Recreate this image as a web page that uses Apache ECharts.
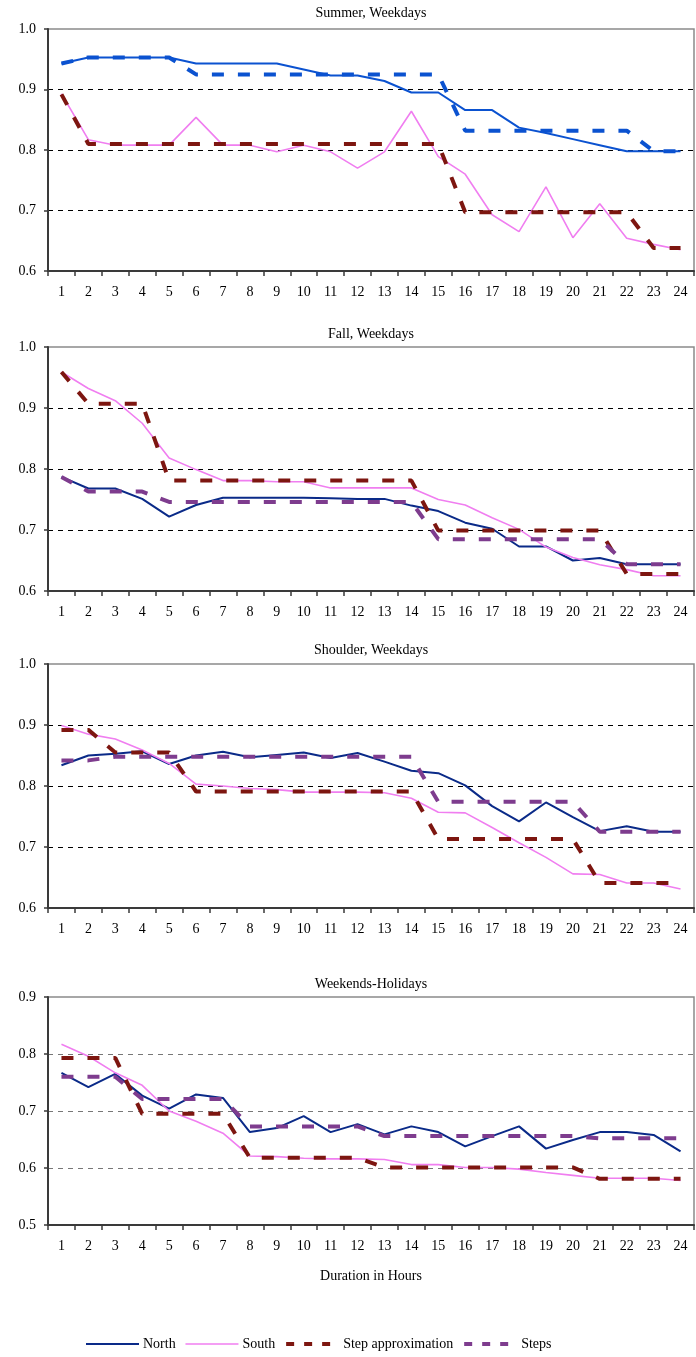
<!DOCTYPE html>
<html>
<head>
<meta charset="utf-8">
<script src="https://cdn.jsdelivr.net/npm/echarts@6/dist/echarts.min.js"></script>
<style>
  html, body { margin: 0; padding: 0; background: #fff; }
  #chart { width: 696px; height: 1357px; }
</style>
</head>
<body>
<div id="chart"></div>
<script>
// Hour categories shared by all four panels
const hours = ['1','2','3','4','5','6','7','8','9','10','11','12','13','14','15','16','17','18','19','20','21','22','23','24'];

const panelTitles = ['Summer, Weekdays', 'Fall, Weekdays', 'Shoulder, Weekdays', 'Weekends-Holidays'];
const axisTitle = 'Duration in Hours';
const seriesNames = ['North', 'South', 'Step approximation', 'Steps'];

// Summer, weekdays
const summerNorth  = [0.943,0.953,0.953,0.953,0.953,0.943,0.943,0.943,0.943,0.933,0.923,0.923,0.914,0.895,0.895,0.866,0.866,0.837,0.828,0.818,0.808,0.798,0.798,0.798];
const summerSouth  = [0.893,0.817,0.808,0.808,0.808,0.854,0.808,0.808,0.797,0.808,0.797,0.770,0.797,0.864,0.789,0.760,0.693,0.665,0.739,0.655,0.711,0.654,0.644,0.635];
const summerApprox = [0.892,0.810,0.810,0.810,0.810,0.810,0.810,0.810,0.810,0.810,0.810,0.810,0.810,0.810,0.810,0.697,0.697,0.697,0.697,0.697,0.697,0.697,0.638,0.638];
const summerSteps  = [0.943,0.953,0.953,0.953,0.953,0.925,0.925,0.925,0.925,0.925,0.925,0.925,0.925,0.925,0.925,0.832,0.832,0.832,0.832,0.832,0.832,0.832,0.798,0.798];

// Fall, weekdays
const fallNorth  = [0.787,0.768,0.768,0.751,0.722,0.741,0.753,0.753,0.753,0.753,0.752,0.751,0.751,0.740,0.731,0.712,0.702,0.673,0.673,0.650,0.654,0.644,0.644,0.644];
const fallSouth  = [0.959,0.932,0.912,0.875,0.818,0.799,0.781,0.781,0.779,0.779,0.769,0.769,0.769,0.769,0.750,0.741,0.720,0.701,0.672,0.655,0.643,0.635,0.625,0.625];
const fallApprox = [0.959,0.907,0.907,0.907,0.781,0.781,0.781,0.781,0.781,0.781,0.781,0.781,0.781,0.781,0.699,0.699,0.699,0.699,0.699,0.699,0.699,0.628,0.628,0.628];
const fallSteps  = [0.787,0.763,0.763,0.763,0.746,0.746,0.746,0.746,0.746,0.746,0.746,0.746,0.746,0.746,0.685,0.685,0.685,0.685,0.685,0.685,0.685,0.644,0.644,0.644];

// Shoulder, weekdays
const shoulderNorth  = [0.834,0.850,0.853,0.857,0.836,0.850,0.856,0.847,0.851,0.855,0.846,0.854,0.840,0.825,0.821,0.801,0.767,0.742,0.773,0.749,0.726,0.734,0.725,0.725];
const shoulderSouth  = [0.899,0.885,0.877,0.859,0.837,0.803,0.800,0.796,0.794,0.790,0.790,0.790,0.789,0.780,0.757,0.756,0.732,0.707,0.683,0.656,0.655,0.641,0.641,0.631];
const shoulderApprox = [0.892,0.892,0.855,0.855,0.855,0.791,0.791,0.791,0.791,0.791,0.791,0.791,0.791,0.791,0.713,0.713,0.713,0.713,0.713,0.713,0.641,0.641,0.641,0.641];
const shoulderSteps  = [0.842,0.842,0.848,0.848,0.848,0.848,0.848,0.848,0.848,0.848,0.848,0.848,0.848,0.848,0.774,0.774,0.774,0.774,0.774,0.774,0.725,0.725,0.725,0.725];

// Weekends and holidays
const weekendNorth  = [0.767,0.742,0.765,0.727,0.704,0.729,0.723,0.663,0.670,0.691,0.663,0.677,0.659,0.673,0.663,0.638,0.656,0.673,0.634,0.649,0.663,0.663,0.658,0.629];
const weekendSouth  = [0.817,0.796,0.767,0.745,0.700,0.682,0.661,0.621,0.620,0.617,0.616,0.616,0.615,0.606,0.606,0.601,0.601,0.598,0.592,0.587,0.582,0.582,0.582,0.578];
const weekendApprox = [0.793,0.793,0.793,0.695,0.695,0.695,0.695,0.618,0.618,0.618,0.618,0.618,0.601,0.601,0.601,0.601,0.601,0.601,0.601,0.601,0.581,0.581,0.581,0.581];
const weekendSteps  = [0.760,0.760,0.760,0.721,0.721,0.721,0.721,0.673,0.673,0.673,0.673,0.673,0.656,0.656,0.656,0.656,0.656,0.656,0.656,0.656,0.652,0.652,0.652,0.652];

const yMin = [0.6, 0.6, 0.6, 0.5];
const yMax = [1.0, 1.0, 1.0, 0.9];

const FONT = '"Liberation Serif", "DejaVu Serif", serif';
const C = {
  blue: '#0b52d0',
  navy: '#0a2a88',
  south: '#f07ef0',
  approx: '#7d1610',
  steps: '#7e3c8e'
};

const panels = [
  { north: summerNorth,   south: summerSouth,   approx: summerApprox,   steps: summerSteps,   northColor: C.blue, stepsColor: C.blue },
  { north: fallNorth,     south: fallSouth,     approx: fallApprox,     steps: fallSteps,     northColor: C.navy, stepsColor: C.steps },
  { north: shoulderNorth, south: shoulderSouth, approx: shoulderApprox, steps: shoulderSteps, northColor: C.navy, stepsColor: C.steps },
  { north: weekendNorth,  south: weekendSouth,  approx: weekendApprox,  steps: weekendSteps,  northColor: C.navy, stepsColor: C.steps }
];

const gridBoxes = [
  { top: 29,  height: 242 },
  { top: 347, height: 244 },
  { top: 664, height: 244 },
  { top: 997, height: 228 }
];
const titleTops = [6, 327, 643, 977];
const gridLineColors = ['#000', '#000', '#000', '#777'];
const DASH = [12, 14];

const grids = [], xAxes = [], yAxes = [], series = [], titles = [];

panels.forEach((p, i) => {
  grids.push({
    left: 48, right: 2, top: gridBoxes[i].top, height: gridBoxes[i].height,
    show: true, borderColor: '#8a8a8a', borderWidth: 1.5, backgroundColor: 'transparent'
  });
  xAxes.push({
    type: 'category', gridIndex: i, data: hours, boundaryGap: true,
    axisLine: { lineStyle: { color: '#3a3a3a', width: 2 } },
    axisTick: { show: true, length: 5, lineStyle: { color: '#3a3a3a', width: 1.5 } },
    axisLabel: { interval: 0, color: '#000', fontFamily: FONT, fontSize: 14, margin: 14 },
    splitLine: { show: false }
  });
  yAxes.push({
    type: 'value', gridIndex: i, min: yMin[i], max: yMax[i], interval: 0.1,
    axisLine: { show: true, lineStyle: { color: '#3a3a3a', width: 2 } },
    axisTick: { show: true, length: 4, lineStyle: { color: '#3a3a3a', width: 1.5 } },
    axisLabel: { color: '#000', fontFamily: FONT, fontSize: 14, margin: 12, formatter: v => v.toFixed(1) },
    splitLine: { show: true, showMinLine: false, showMaxLine: false, lineStyle: { color: gridLineColors[i], type: [5, 5], width: 1 } }
  });
  titles.push({
    text: panelTitles[i], left: 371, top: titleTops[i], textAlign: 'center', padding: 0,
    textStyle: { fontFamily: FONT, fontSize: 14, fontWeight: 'normal', color: '#000' }
  });

  const base = { type: 'line', xAxisIndex: i, yAxisIndex: i, symbol: 'none', animation: false };
  series.push(Object.assign({}, base, { name: 'North', data: p.north, lineStyle: { color: p.northColor, width: 2 }, itemStyle: { color: p.northColor } }));
  series.push(Object.assign({}, base, { name: 'South', data: p.south, lineStyle: { color: C.south, width: 1.6 }, itemStyle: { color: C.south } }));
  series.push(Object.assign({}, base, { name: 'Step approximation', data: p.approx, lineStyle: { color: C.approx, width: 4, type: DASH, cap: 'butt' }, itemStyle: { color: C.approx } }));
  series.push(Object.assign({}, base, { name: 'Steps', data: p.steps, lineStyle: { color: p.stepsColor, width: 4, type: DASH, cap: 'butt' }, itemStyle: { color: p.stepsColor } }));
});

titles.push({
  text: axisTitle, left: 371, top: 1269, textAlign: 'center', padding: 0,
  textStyle: { fontFamily: FONT, fontSize: 14, fontWeight: 'normal', color: '#000' }
});

// legend keys are plain line samples, no point marker
const hiddenMarker = { color: 'rgba(0,0,0,0)', borderColor: 'rgba(0,0,0,0)', borderWidth: 0, opacity: 0 };

const chart = echarts.init(document.getElementById('chart'), null, { renderer: 'canvas' });
chart.setOption({
  backgroundColor: '#fff',
  animation: false,
  title: titles,
  grid: grids,
  xAxis: xAxes,
  yAxis: yAxes,
  legend: {
    left: 85, top: 1337, padding: 0, itemWidth: 53, itemHeight: 14, itemGap: 9,
    textStyle: { fontFamily: FONT, fontSize: 14, color: '#000', padding: [0, 0, 0, -1] },
    data: [
      { name: 'North', icon: 'inherit', itemStyle: hiddenMarker, lineStyle: { color: C.navy, width: 2, opacity: 1 } },
      { name: 'South', icon: 'inherit', itemStyle: hiddenMarker, lineStyle: { color: C.south, width: 1.6, opacity: 1 } },
      { name: 'Step approximation', icon: 'inherit', itemStyle: hiddenMarker, lineStyle: { color: C.approx, width: 4, type: [8, 10], opacity: 1 } },
      { name: 'Steps', icon: 'inherit', itemStyle: hiddenMarker, lineStyle: { color: C.steps, width: 4, type: [8, 10], opacity: 1 } }
    ]
  },
  series: series
});
</script>
</body>
</html>
